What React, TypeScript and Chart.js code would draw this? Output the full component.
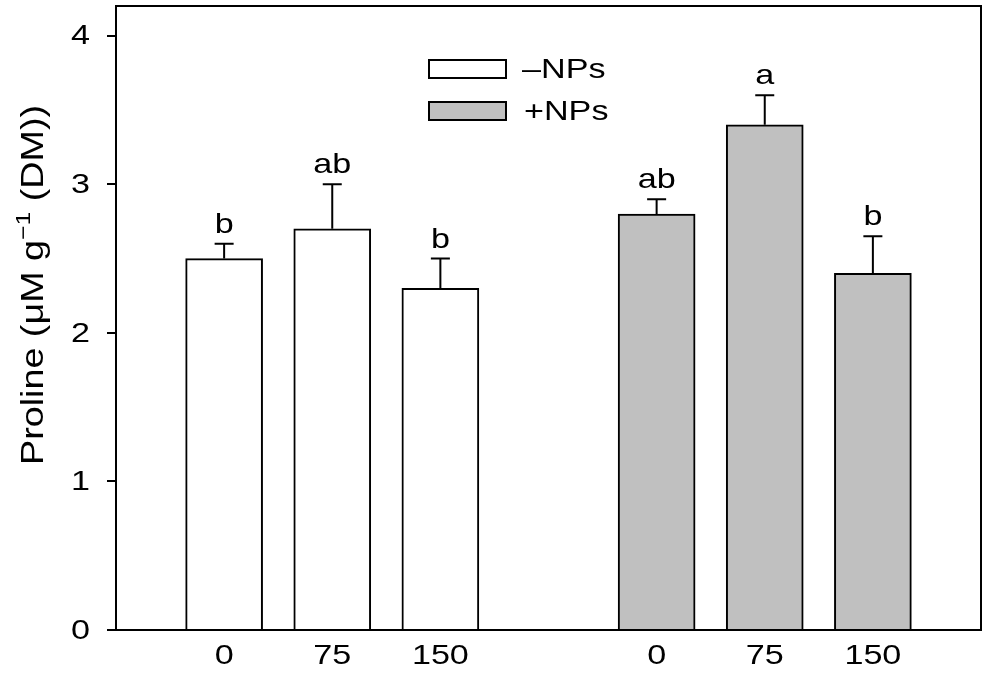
import React, { useEffect, useRef } from "react";
import { Chart, registerables } from "chart.js";

Chart.register(...registerables);

const doseLabels = ["0", "75", "150"];
const minusPositions = [0, 1, 2];
const plusPositions = [4, 5, 6];
const minusNPs = [2.5, 2.7, 2.3];
const minusErr = [0.1, 0.3, 0.2];
const plusNPs = [2.8, 3.4, 2.4];
const plusErr = [0.1, 0.2, 0.25];
const minusLetters = ["b", "ab", "b"];
const plusLetters = ["ab", "a", "b"];
const seriesNames = ["\u2013NPs", "+NPs"];
const yTicks = [0, 1, 2, 3, 4];

const FONT = "'Liberation Sans', Arial, sans-serif";
const SX = 1.22;

function sText(ctx: any, text: string, x: number, y: number, align: string, baseline: string, sx = SX) {
  ctx.save();
  ctx.translate(x, y);
  ctx.scale(sx, 1);
  ctx.textAlign = align;
  ctx.textBaseline = baseline;
  ctx.fillText(text, 0, 0);
  ctx.restore();
}

export default function App() {
  const ref = useRef<HTMLCanvasElement | null>(null);

  useEffect(() => {
    const canvas = ref.current;
    if (!canvas) return;

    const overlay = {
      id: "overlay",
      afterDatasetsDraw(chart: any) {
        const ctx = chart.ctx;
        const xs = chart.scales.x;
        const ys = chart.scales.y;
        const ca = chart.chartArea;
        ctx.save();
        // frame top & right
        ctx.strokeStyle = "#000";
        ctx.lineWidth = 2;
        ctx.beginPath();
        ctx.moveTo(ca.left - 1, ca.top);
        ctx.lineTo(ca.right, ca.top);
        ctx.lineTo(ca.right, ca.bottom);
        ctx.stroke();

        ctx.fillStyle = "#000";
        ctx.font = `28px ${FONT}`;

        // y tick labels from the y scale
        ys.ticks.forEach((t: any) => {
          sText(ctx, String(t.value), ca.left - 26, ys.getPixelForValue(t.value) + 1, "right", "middle");
        });
        // x tick labels from the x scale
        xs.ticks.forEach((t: any) => {
          const i = minusPositions.indexOf(t.value);
          const j = plusPositions.indexOf(t.value);
          const lab = i >= 0 ? doseLabels[i] : j >= 0 ? doseLabels[j] : "";
          sText(ctx, lab, xs.getPixelForValue(t.value), ca.bottom + 26, "center", "middle");
        });

        // error bars & letters
        const groups = [
          { pos: minusPositions, vals: minusNPs, err: minusErr, letters: minusLetters },
          { pos: plusPositions, vals: plusNPs, err: plusErr, letters: plusLetters },
        ];
        groups.forEach((g) => {
          g.pos.forEach((p, i) => {
            const x = xs.getPixelForValue(p);
            const y0 = ys.getPixelForValue(g.vals[i]);
            const y1 = ys.getPixelForValue(g.vals[i] + g.err[i]);
            ctx.lineWidth = 2;
            ctx.strokeStyle = "#000";
            ctx.beginPath();
            ctx.moveTo(x, y0);
            ctx.lineTo(x, y1);
            ctx.moveTo(x - 9.5, y1);
            ctx.lineTo(x + 9.5, y1);
            ctx.stroke();
            sText(ctx, g.letters[i], x, y1 - 11, "center", "alphabetic");
          });
        });

        // legend
        const fills = ["#FFFFFF", "#C0C0C0"];
        const boxY = [60, 102];
        seriesNames.forEach((name, i) => {
          ctx.fillStyle = fills[i];
          ctx.fillRect(429, boxY[i], 77, 18);
          ctx.strokeStyle = "#000";
          ctx.lineWidth = 2;
          ctx.strokeRect(429, boxY[i], 77, 18);
          ctx.fillStyle = "#000";
          sText(ctx, name, i === 0 ? 522 : 524, boxY[i] + 10, "left", "middle");
        });

        // y axis title with superscript
        const mainFont = `32px ${FONT}`;
        const supFont = `21px ${FONT}`;
        const p1 = "Proline (\u03BCM g";
        const sup = "\u22121";
        const p2 = " (DM))";
        ctx.font = mainFont;
        const w1 = ctx.measureText(p1).width;
        const w3 = ctx.measureText(p2).width;
        ctx.font = supFont;
        const w2 = ctx.measureText(sup).width;
        const total = w1 + w2 + w3;
        const s = 360 / total;
        ctx.translate(43, 285);
        ctx.rotate(-Math.PI / 2);
        ctx.scale(s, 1);
        ctx.textAlign = "left";
        ctx.textBaseline = "alphabetic";
        let cx = -total / 2;
        ctx.font = mainFont;
        ctx.fillText(p1, cx, 0);
        cx += w1;
        ctx.font = supFont;
        ctx.fillText(sup, cx, -13);
        cx += w2;
        ctx.font = mainFont;
        ctx.fillText(p2, cx, 0);
        ctx.restore();
      },
    };

    const chart = new Chart(canvas, {
      type: "bar",
      data: {
        datasets: [
          {
            label: seriesNames[0],
            data: minusPositions.map((p, i) => ({ x: p, y: minusNPs[i] })),
            backgroundColor: "#FFFFFF",
            borderColor: "#000",
            borderWidth: 2,
            borderSkipped: "start",
          },
          {
            label: seriesNames[1],
            data: plusPositions.map((p, i) => ({ x: p, y: plusNPs[i] })),
            backgroundColor: "#C0C0C0",
            borderColor: "#000",
            borderWidth: 2,
            borderSkipped: "start",
          },
        ],
      },
      options: {
        animation: false,
        responsive: false,
        maintainAspectRatio: false,
        devicePixelRatio: 1,
        layout: { padding: { left: 0, right: 7, top: 6, bottom: 0 } },
        datasets: { bar: { grouped: false, barThickness: 77 } } as any,
        plugins: { legend: { display: false }, tooltip: { enabled: false } },
        scales: {
          x: {
            type: "linear",
            min: -1,
            max: 7,
            offset: false,
            afterBuildTicks: (scale: any) => {
              scale.ticks = [...minusPositions, ...plusPositions].map((v) => ({ value: v }));
            },
            afterFit: (scale: any) => {
              scale.height = 46;
            },
            ticks: { display: false },
            grid: { display: false, drawTicks: false, offset: false },
            border: { display: true, color: "#000", width: 2 },
          },
          y: {
            type: "linear",
            min: 0,
            max: 4.2,
            afterBuildTicks: (scale: any) => {
              scale.ticks = yTicks.map((v) => ({ value: v }));
            },
            afterFit: (scale: any) => {
              scale.width = 116;
            },
            ticks: { display: false },
            grid: {
              display: true,
              drawOnChartArea: false,
              drawTicks: true,
              tickLength: 9,
              lineWidth: 2,
              color: "#000",
            },
            border: { display: true, color: "#000", width: 2 },
          },
        },
      },
      plugins: [overlay],
    } as any);

    return () => chart.destroy();
  }, []);

  return (
    <div style={{ position: "absolute", left: 0, top: 0, width: 988, height: 676, background: "#fff" }}>
      <canvas ref={ref} width={988} height={676} style={{ width: 988, height: 676, display: "block" }} />
    </div>
  );
}
